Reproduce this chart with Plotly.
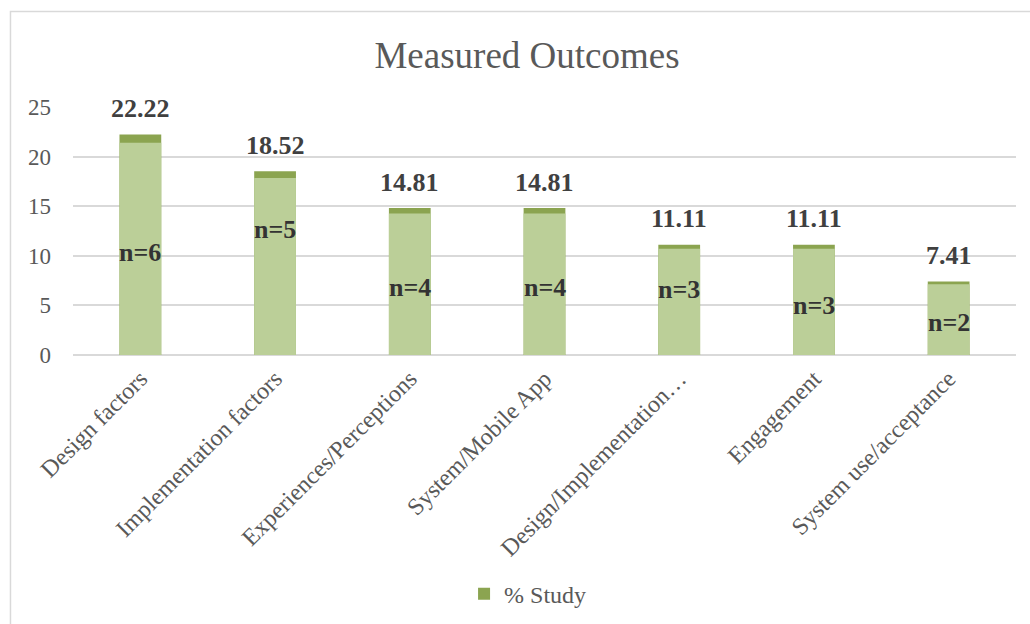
import plotly.graph_objects as go

categories = ["Design factors", "Implementation factors", "Experiences/Perceptions",
              "System/Mobile App", "Design/Implementation…", "Engagement",
              "System use/acceptance"]
pct_study = [22.22, 18.52, 14.81, 14.81, 11.11, 11.11, 7.41]
n_studies = [6, 5, 4, 4, 3, 3, 2]
# vertical placement of the "n=" labels (axis units), as positioned in the original
n_label_pos = [10.3, 12.7, 6.8, 6.8, 6.6, 5.0, 3.3]

LIGHT = "#BBCF98"
DARK = "#8BA450"
FONT = "Liberation Serif"

fig = go.Figure()
# dark full-height bar (gives the darker cap) + lighter body on top of it
fig.add_trace(go.Bar(x=categories, y=pct_study, name="% Study",
                     marker=dict(color=DARK, line=dict(width=0)),
                     width=0.31, hoverinfo="skip"))
fig.add_trace(go.Bar(x=categories, y=[v * 0.963 for v in pct_study], name="body",
                     marker=dict(color=LIGHT, line=dict(width=0)),
                     width=0.31, showlegend=False, hoverinfo="skip"))

annotations = []
for c, v in zip(categories, pct_study):
    annotations.append(dict(x=c, y=v, xref="x", yref="y", text=f"{v:.2f}",
                            showarrow=False, yanchor="middle", yshift=26,
                            font=dict(family=FONT, size=26, color="#404040", weight="bold")))
for c, n, p in zip(categories, n_studies, n_label_pos):
    annotations.append(dict(x=c, y=p, xref="x", yref="y", text=f"n={n}",
                            showarrow=False, yanchor="middle",
                            font=dict(family=FONT, size=26, color="#333333", weight="bold")))

fig.update_layout(
    width=1030, height=624,
    margin=dict(l=73, r=14, t=107, b=269, autoexpand=False),
    paper_bgcolor="white", plot_bgcolor="white",
    barmode="overlay", bargap=0.69,
    title=dict(text="Measured Outcomes", x=0.5117, xanchor="center",
               y=0.912, yanchor="middle", xref="container", yref="container",
               font=dict(family=FONT, size=37, color="#595959")),
    font=dict(family=FONT, size=22, color="#595959"),
    showlegend=True,
    legend=dict(orientation="h", x=0.4147, xanchor="left", y=-0.964, yanchor="middle",
                font=dict(family=FONT, size=24, color="#595959"),
                bgcolor="rgba(0,0,0,0)"),
    annotations=annotations,
    shapes=[dict(type="rect", xref="paper", yref="paper",
                 x0=-0.0663, x1=1.1, y0=-1.2, y1=1.385,
                 line=dict(color="#D9D9D9", width=1.5), fillcolor="rgba(0,0,0,0)",
                 layer="below")],
)
fig.update_yaxes(range=[0, 25], dtick=5, showgrid=True, gridcolor="#D9D9D9", gridwidth=1.5,
                 zeroline=True, zerolinecolor="#D9D9D9", zerolinewidth=1.5,
                 showline=False, ticks="", ticklabelstandoff=21,
                 tickfont=dict(family=FONT, size=23, color="#595959"))
fig.update_xaxes(tickangle=-45, showgrid=False, showline=False, ticks="",
                 ticklabelstandoff=4,
                 tickfont=dict(family=FONT, size=24, color="#595959"))

fig.write_html("out.html")
